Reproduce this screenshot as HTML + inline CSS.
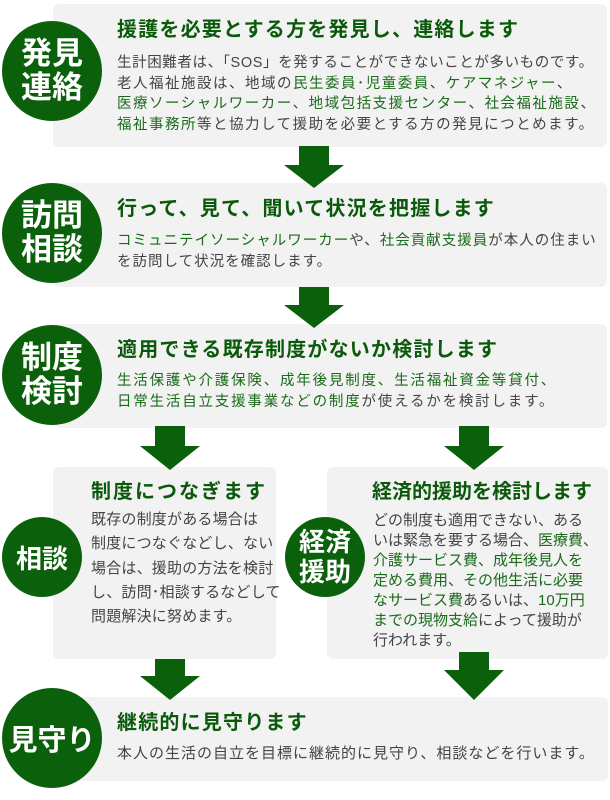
<!DOCTYPE html>
<html><head><meta charset="utf-8"><style>
*{margin:0;padding:0;box-sizing:border-box}
body{width:610px;height:800px;background:#fff;position:relative;overflow:hidden;font-family:"Liberation Sans","Noto Sans CJK JP",sans-serif}
.box{position:absolute;background:#f2f2f2;border-radius:6px}
.c{position:absolute;background:#0b600b;border-radius:50%;color:#fff;font-weight:bold;display:flex;align-items:center;justify-content:center;text-align:center}
.t{position:absolute;color:#0b5a0b;font-weight:bold;font-size:20px;line-height:24px;white-space:nowrap}
.b{position:absolute;color:#444;font-size:14.5px;letter-spacing:1.5px;line-height:20.7px;white-space:nowrap}
.g{color:#1a6b1a}
</style></head><body>
<div class="box" style="left:53px;top:4px;width:554px;height:143px"></div>
<div class="box" style="left:53px;top:183px;width:554px;height:104px"></div>
<div class="box" style="left:53px;top:324px;width:554px;height:104px"></div>
<div class="box" style="left:53px;top:467px;width:223px;height:192px"></div>
<div class="box" style="left:327px;top:467px;width:281px;height:192px"></div>
<div class="box" style="left:53px;top:697px;width:555px;height:84px"></div>

<svg width="610" height="800" style="position:absolute;left:0;top:0">
<g fill="#0b600b">
<polygon points="299,146 329,146 329,165 344,165 314,188 284,165 299,165"/>
<polygon points="299,287 329,287 329,305 344,305 314,328 284,305 299,305"/>
<polygon points="155,426 185,426 185,446 200,446 170,470 140,446 155,446"/>
<polygon points="459,426 489,426 489,446 504,446 474,470 444,446 459,446"/>
<polygon points="155,659 185,659 185,676 200,676 170,700 140,676 155,676"/>
<polygon points="459,652 489,652 489,670 504,670 474,700 444,670 459,670"/>
</g></svg>

<div class="c" style="left:2px;top:21px;width:100px;height:100px;font-size:31px;line-height:34px">発見<br>連絡</div>
<div class="c" style="left:2px;top:183px;width:100px;height:100px;font-size:31px;line-height:34px">訪問<br>相談</div>
<div class="c" style="left:2px;top:325px;width:100px;height:100px;font-size:31px;line-height:34px">制度<br>検討</div>
<div class="c" style="left:2px;top:517px;width:80px;height:80px;font-size:26px">相談</div>
<div class="c" style="left:285px;top:517px;width:80px;height:80px;font-size:26px;line-height:30px">経済<br>援助</div>
<div class="c" style="left:2px;top:688px;width:100px;height:100px;font-size:29px">見守り</div>

<div class="t" style="left:117px;top:18px;letter-spacing:1.2px">援護を必要とする方を発見し、連絡します</div>
<div class="b" style="left:117px;top:53px"><span style="letter-spacing:0.6px">生計困難者は、「SOS」を発することができないことが多いものです。</span><br>老人福祉施設は、地域の<span class="g">民生委員･児童委員</span>、<span class="g">ケアマネジャー</span>、<br><span class="g">医療ソーシャルワーカー</span>、<span class="g">地域包括支援センター</span>、<span class="g">社会福祉施設</span>、<br><span class="g">福祉事務所</span>等と協力して援助を必要とする方の発見につとめます。</div>

<div class="t" style="left:117px;top:197px;letter-spacing:1.2px">行って、見て、聞いて状況を把握します</div>
<div class="b" style="left:117px;top:231px;letter-spacing:1.0px"><span class="g">コミュニテイソーシャルワーカー</span>や、<span class="g">社会貢献支援員</span>が本人の住まい<br>を訪問して状況を確認します。</div>

<div class="t" style="left:117px;top:338px;letter-spacing:1.2px">適用できる既存制度がないか検討します</div>
<div class="b" style="left:117px;top:371px;letter-spacing:1.8px"><span class="g">生活保護や介護保険、成年後見制度、生活福祉資金等貸付、<br>日常生活自立支援事業などの制度</span>が使えるかを検討します。</div>

<div class="t" style="left:91px;top:480px;letter-spacing:2px">制度につなぎます</div>
<div class="b" style="left:91px;top:508px;font-size:15px;letter-spacing:0.2px;line-height:24.3px">既存の制度がある場合は<br>制度につなぐなどし、ない<br>場合は、援助の方法を検討<br>し、訪問･相談するなどして<br>問題解決に努めます。</div>

<div class="t" style="left:372px;top:480px">経済的援助を検討します</div>
<div class="b" style="left:373px;top:511px;font-size:15px;letter-spacing:0;line-height:20px">どの制度も適用できない、ある<br>いは緊急を要する場合、<span class="g">医療費</span>、<br><span class="g">介護サービス費</span>、<span class="g">成年後見人を<br>定める費用</span>、<span class="g">その他生活に必要<br>なサービス費</span>あるいは、<span class="g">10万円<br>までの現物支給</span>によって援助が<br>行われます。</div>

<div class="t" style="left:117px;top:711px;letter-spacing:1.2px">継続的に見守ります</div>
<div class="b" style="left:117px;top:744px;font-size:15px;letter-spacing:1px">本人の生活の自立を目標に継続的に見守り、相談などを行います。</div>
</body></html>
